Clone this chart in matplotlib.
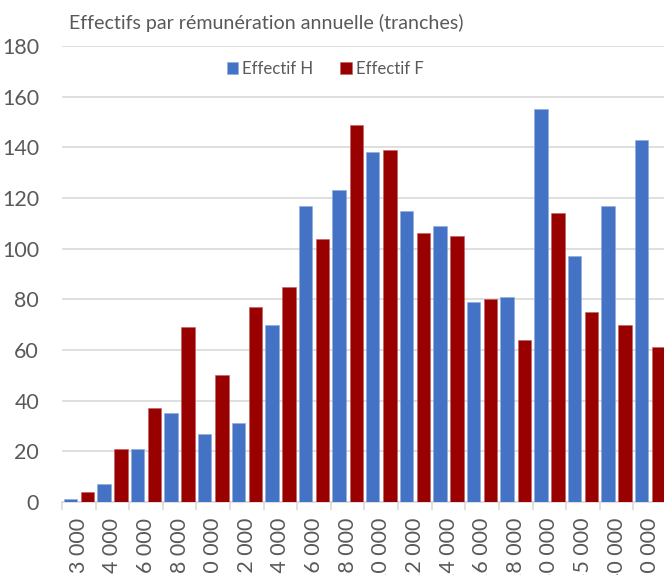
import matplotlib
matplotlib.use("Agg")
import matplotlib.pyplot as plt
import numpy as np

categories = ["3 000", "4 000", "6 000", "8 000", "10 000", "12 000", "14 000", "16 000",
              "18 000", "20 000", "22 000", "24 000", "26 000", "28 000", "30 000",
              "35 000", "40 000", "50 000"]
effectif_h = [1, 7, 21, 35, 27, 31, 70, 117, 123, 138, 115, 109, 79, 81, 155, 97, 117, 143]
effectif_f = [4, 21, 37, 69, 50, 77, 85, 104, 149, 139, 106, 105, 80, 64, 114, 75, 70, 61]
yticks = [0, 20, 40, 60, 80, 100, 120, 140, 160, 180]

plt.rcParams['font.family'] = ['Lato', 'DejaVu Sans']
TXT = '#595959'
W, H = 664, 575
fig = plt.figure(figsize=(W / 100, H / 100), dpi=100)
ax = fig.add_axes([62 / W, 73 / H, 605 / W, 456 / H])

x = np.arange(len(categories))
bw = 0.40
ax.bar(x - 0.255, effectif_h, width=bw, color='#4472C4', edgecolor='#8FAADC', linewidth=0.4,
       label='Effectif H', zorder=3)
ax.bar(x + 0.255, effectif_f, width=bw, color='#990000', edgecolor='#C06060', linewidth=0.4,
       label='Effectif F', zorder=3)

ax.set_xlim(-0.5, len(categories) - 0.5)
ax.set_ylim(0, 180)
ax.set_yticks(yticks)
ax.set_yticklabels([str(v) for v in yticks], fontsize=15.4, color=TXT)
ax.yaxis.grid(True, color='#D9D9D9', linewidth=1.2, zorder=0)
ax.tick_params(axis='y', length=0, pad=16.5)

ax.set_xticks(x)
ax.set_xticklabels(categories, rotation=90, fontsize=15.4, color=TXT, va='top')
ax.tick_params(axis='x', length=0, pad=11.5)
ax.set_xticks(np.arange(len(categories) + 1) - 0.5, minor=True)
ax.tick_params(axis='x', which='minor', length=6, color='#D9D9D9', width=1.2)

for s in ['left', 'right', 'top']:
    ax.spines[s].set_visible(False)
ax.spines['bottom'].set_color('#D9D9D9')
ax.spines['bottom'].set_linewidth(1.2)

fig.text(266 / W, 1 - 23 / H, 'Effectifs par rémunération annuelle (tranches)',
         ha='center', va='center', fontsize=14.1, color=TXT)

leg = ax.legend(loc='center', bbox_to_anchor=(325 / W, 1 - 69 / H), bbox_transform=fig.transFigure,
                ncol=2, frameon=False, fontsize=12.1, handlelength=0.7, handleheight=0.7,
                handletextpad=0.2, columnspacing=1.65, labelcolor=TXT)

fig.savefig('out.png', dpi=100)
